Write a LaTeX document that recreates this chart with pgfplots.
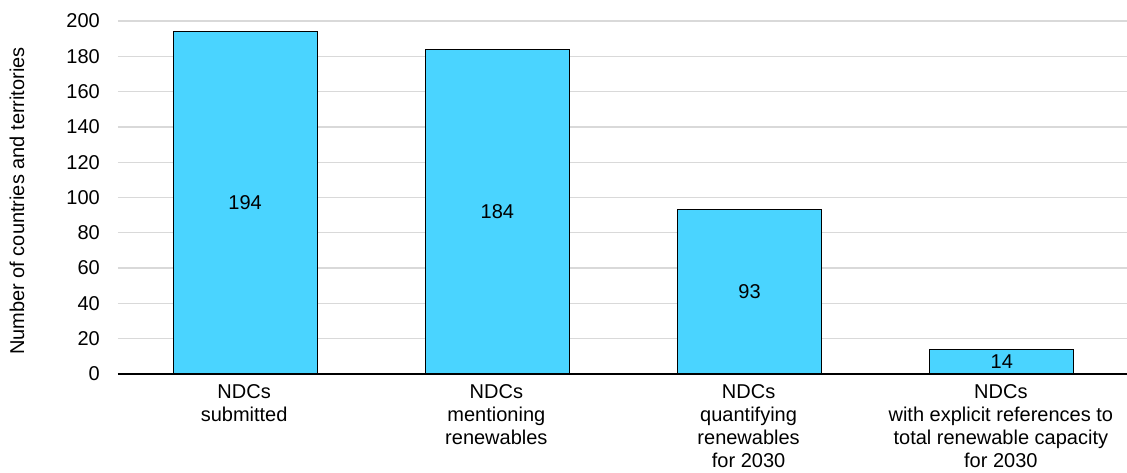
\documentclass[border=0pt]{standalone}
\usepackage{fontspec}
\setmainfont{Liberation Sans}
\usepackage{pgfplots}
\pgfplotsset{compat=1.18}
\definecolor{barcyan}{RGB}{74,212,255}
\definecolor{gridgray}{RGB}{217,217,217}
\begin{document}
\begin{tikzpicture}
\begin{axis}[
  scale only axis, width=1009pt, height=353pt,
  xmin=-0.5, xmax=3.5, ymin=0, ymax=200,
  ytick={0,20,...,200},
  xtick={0,1,2,3},
  xticklabels={{NDCs\\submitted},{NDCs\\mentioning\\renewables},{NDCs\\quantifying\\renewables\\for 2030},{NDCs\\with explicit references to\\total renewable capacity\\for 2030}},
  xticklabel style={align=center, anchor=north, inner sep=0pt, yshift=-10.5pt, font=\fontsize{20}{23}\selectfont},
  yticklabel style={anchor=east, inner sep=0pt, xshift=-18pt, font=\fontsize{20}{24}\selectfont},
  /pgf/number format/assume math mode=true,
  axis x line*=bottom, axis y line*=left,
  y axis line style={draw=none},
  x axis line style={black, line width=1.3pt},
  major tick length=0pt,
  ymajorgrids, grid style={gridgray, line width=1.3pt},
  ylabel={Number of countries and territories},
  every axis y label/.style={at={(axis description cs:0,0.49)}, xshift=-101pt, rotate=90, anchor=center, font=\fontsize{20}{24}\selectfont},
  ybar, bar width=144pt, bar shift=1pt,
  visualization depends on={rawy \as \rawy},
  nodes near coords,
  nodes near coords style={anchor=center, font=\fontsize{20}{24}\selectfont, shift={(axis direction cs:0,-\rawy/2)}},
]
\addplot[fill=barcyan, draw=black, line width=1.2pt] coordinates {(0,194) (1,184) (2,93) (3,14)};
\coordinate (O) at (rel axis cs:0,0);
\end{axis}
\pgfresetboundingbox
\path (O) ++(-118pt,-98pt) rectangle ++(1127pt,472pt);
\end{tikzpicture}
\end{document}
